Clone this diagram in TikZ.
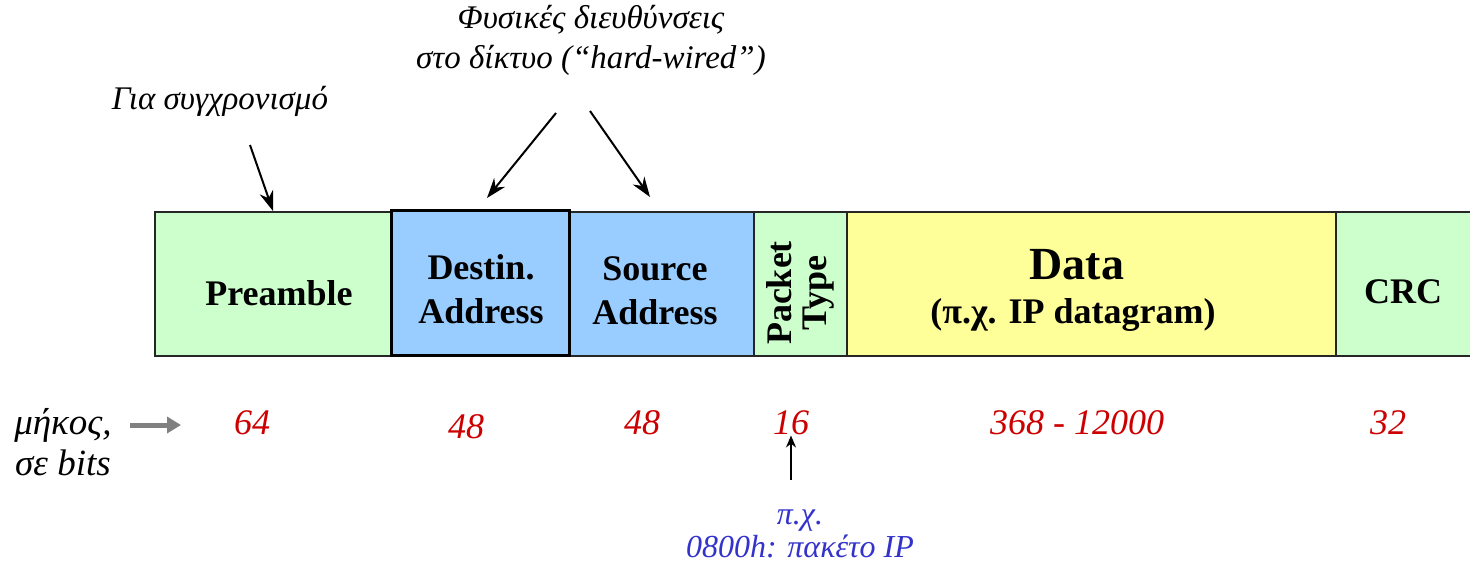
\documentclass[tikz,border=0pt]{standalone}
\usepackage{fontspec}
\setmainfont{Liberation Serif}
\usetikzlibrary{arrows.meta}
\definecolor{fgreen}{HTML}{CCFFCC}
\definecolor{fblue}{HTML}{99CCFF}
\definecolor{fyellow}{HTML}{FFFF99}
\definecolor{bitred}{HTML}{CC0000}
\definecolor{noteblue}{HTML}{3333CC}
\begin{document}
\begin{tikzpicture}[x=0.5pt,y=-0.5pt,
  field/.style={draw=black!85, line width=1pt, minimum height=72pt, inner sep=0pt},
  lbl/.style={font=\bfseries\fontsize{18}{22}\selectfont, align=center, inner sep=0pt},
  note/.style={font=\itshape\fontsize{16.5}{20}\selectfont, align=center, inner sep=0pt},
  bits/.style={font=\itshape\fontsize{18}{20}\selectfont, text=bitred, inner sep=0pt},
  pointer/.style={-{Stealth[length=10pt,width=7pt]}, line width=1pt},
]
\useasboundingbox (0,0) rectangle (1470,568);
\clip (0,0) rectangle (1470,568);
\fill[white] (0,0) rectangle (1470,568);

% frame fields
\node[field, fill=fgreen,  minimum width=118pt]  (pre)  at (273,284)   {};
\node[field, fill=fblue,   minimum width=92.5pt] (src)  at (661.5,284) {};
\node[field, fill=fgreen,  minimum width=46.5pt] (ptyp) at (800.5,284) {};
\node[field, fill=fyellow, minimum width=244.5pt](data) at (1091.5,284){};
\node[field, fill=fgreen,  minimum width=77pt]   (crc)  at (1413,284)  {};
\node[field, fill=fblue,   minimum width=89pt, minimum height=72.5pt, line width=1.5pt, draw=black] (dst) at (480,282.5) {};

% field labels
\node[lbl] (preT)  at (279,293) {Preamble};
\node[lbl] (dstT)  at (481,289) {Destin.\\Address};
\node[lbl] (srcT)  at (655,291) {Source\\Address};
\node[lbl, rotate=90, font=\bfseries\fontsize{18}{17.5}\selectfont] (ptypT) at (800,293) {Packet\\Type};
\node[lbl, font=\bfseries\fontsize{23}{26}\selectfont] (dataT) at (1077,265) {Data};
\node[lbl] (dataS) at (1073,315) {(π.χ. IP datagram)};
\node[lbl] (crcT)  at (1403,292) {CRC};

% annotations above
\node[note] (sync) at (220,101) {Για συγχρονισμό};
\node[note] (addr) at (591,40) {Φυσικές διευθύνσεις\\στο δίκτυο (“hard-wired”)};
\coordinate (syncA) at (250,145);
\coordinate (addrL) at (556,113);
\coordinate (addrR) at (590,111);
\coordinate (dstA) at (487,198);
\coordinate (srcA) at (650,197);
\draw[pointer] (syncA) -- (pre.north);
\draw[pointer] (addrL) -- (dstA);
\draw[pointer] (addrR) -- (srcA);

% field lengths
\node[note, font=\itshape\fontsize{18.5}{20.5}\selectfont] (len) at (63,442) {μήκος,\\σε bits};
\coordinate (lenA) at (130,425);
\coordinate (lenB) at (181,425);
\draw[-{Triangle[length=7pt,width=8pt]}, line width=2.5pt, gray] (lenA) -- (lenB);
\node[bits] (b1) at (252,423) {64};
\node[bits] (b2) at (466,427) {48};
\node[bits] (b3) at (642,423) {48};
\node[bits] (b4) at (791,423) {16};
\node[bits] (b5) at (1077,423) {368 - 12000};
\node[bits] (b6) at (1388,423) {32};

% packet type example
\node[note, text=noteblue, font=\itshape\fontsize{16}{16.5}\selectfont] (ex) at (800,534) {π.χ.\\0800h: πακέτο IP};
\coordinate (exA) at (791,480);
\draw[-{Stealth[length=6pt,width=5pt]}, line width=0.8pt] (exA) -- (b4.south);
\end{tikzpicture}
\end{document}
